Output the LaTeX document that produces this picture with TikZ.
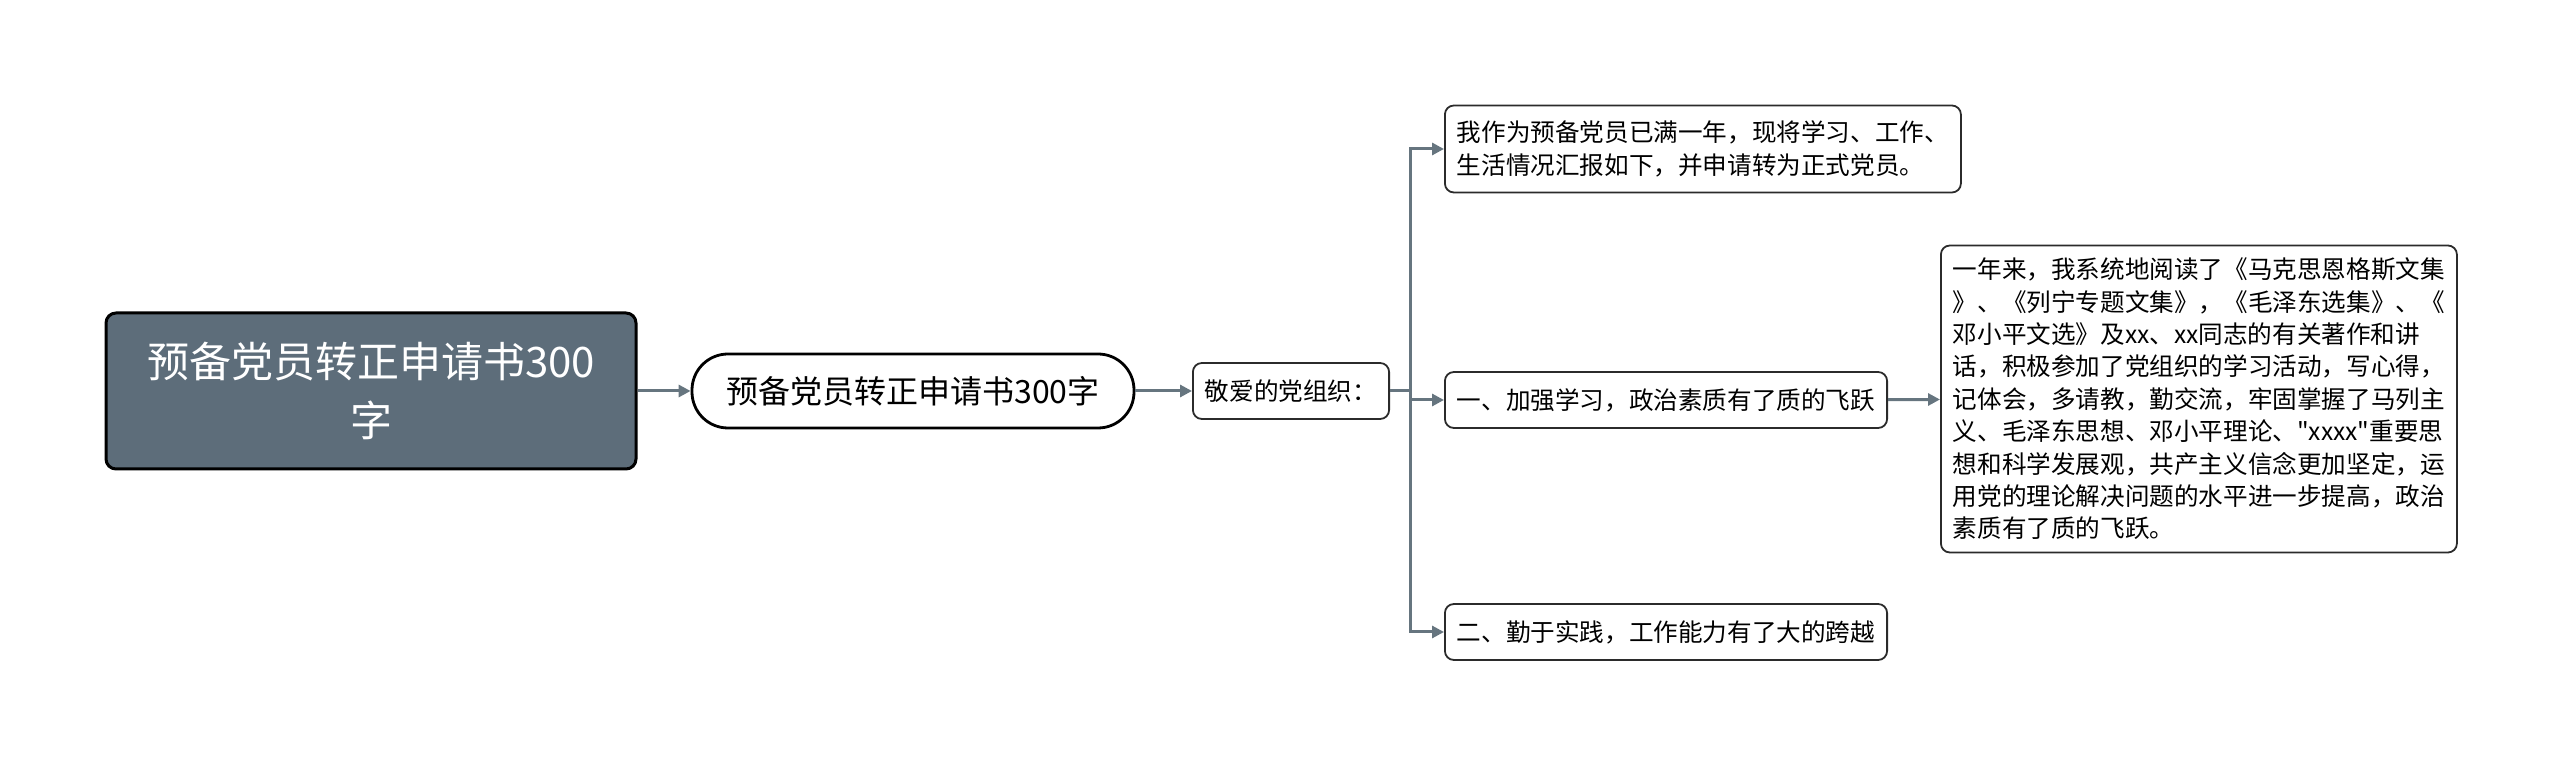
\documentclass[tikz,border=0pt]{standalone}
\usepackage{fontspec}
\setmainfont{Noto Sans CJK SC}
\newfontfamily\cjkplain{Noto Sans CJK SC}
\usepackage{xcolor}
\usetikzlibrary{positioning,arrows.meta,calc}
\definecolor{rootfill}{HTML}{5D6D7A}
\definecolor{linkgray}{HTML}{66757F}
\definecolor{boxline}{HTML}{2B2B2B}
\newcommand{\dq}{{\cjkplain"}}

\begin{document}
\begin{tikzpicture}[
    x=0.5pt, y=0.5pt,
    rootbox/.style={rectangle, draw=black, line width=1.5pt, rounded corners=5pt, fill=rootfill, text=white, align=center,
        minimum width=265pt, minimum height=78pt, font=\fontsize{21}{29.5}\selectfont},
    pill/.style={rectangle, draw=black, line width=1.4pt, rounded corners=18pt, minimum width=221pt, minimum height=37pt,
        align=center, font=\fontsize{16}{20}\selectfont},
    leaf/.style={rectangle, draw=boxline, line width=0.9pt, rounded corners=4.5pt, align=left, inner xsep=6pt,
        anchor=west, font=\fontsize{12.3}{16.2}\selectfont},
    arrow/.style={-{Triangle[length=6pt,width=6pt]}, draw=linkgray, line width=1.5pt}
]
    \useasboundingbox (0,0) rectangle (2560,766);

    % Root and title
    \node[rootbox] (root) at (371, 375) {预备党员转正申请书300\\字};
    \node[pill] (title) at (913, 375) {预备党员转正申请书300字};

    % Greeting
    \node[leaf, minimum width=98pt, minimum height=28pt] (greet) at (1192, 375) {敬爱的党组织：};

    % Paragraphs
    \node[leaf, minimum width=257pt, minimum height=43.5pt] (intro) at (1444, 617) {我作为预备党员已满一年，现将学习、工作、\\生活情况汇报如下，并申请转为正式党员。};
    \node[leaf, minimum width=221pt, minimum height=28pt] (study) at (1444, 366) {一、加强学习，政治素质有了质的飞跃};
    \node[leaf, minimum width=221pt, minimum height=28pt] (practice) at (1444, 134) {二、勤于实践，工作能力有了大的跨越};
    \node[leaf, minimum width=257pt, minimum height=153.5pt] (detail) at (1940, 367) {一年来，我系统地阅读了《马克思恩格斯文集\\》、《列宁专题文集》，《毛泽东选集》、《\\邓小平文选》及xx、xx同志的有关著作和讲\\话，积极参加了党组织的学习活动，写心得，\\记体会，多请教，勤交流，牢固掌握了马列主\\义、毛泽东思想、邓小平理论、\dq xxxx\dq 重要思\\想和科学发展观，共产主义信念更加坚定，运\\用党的理论解决问题的水平进一步提高，政治\\素质有了质的飞跃。};

    % Connectors
    \draw[arrow] (root) -- (title);
    \draw[arrow] (title) -- (greet);
    \coordinate (fork) at ($(greet.east)+(20,0)$);
    \draw[linkgray, line width=1.5pt] (greet.east) -- (fork);
    \draw[arrow] (fork) |- (intro.west);
    \draw[arrow] (fork) |- (study.west);
    \draw[arrow] (fork) |- (practice.west);
    \draw[arrow] (study) -- (detail);

\end{tikzpicture}
\end{document}
